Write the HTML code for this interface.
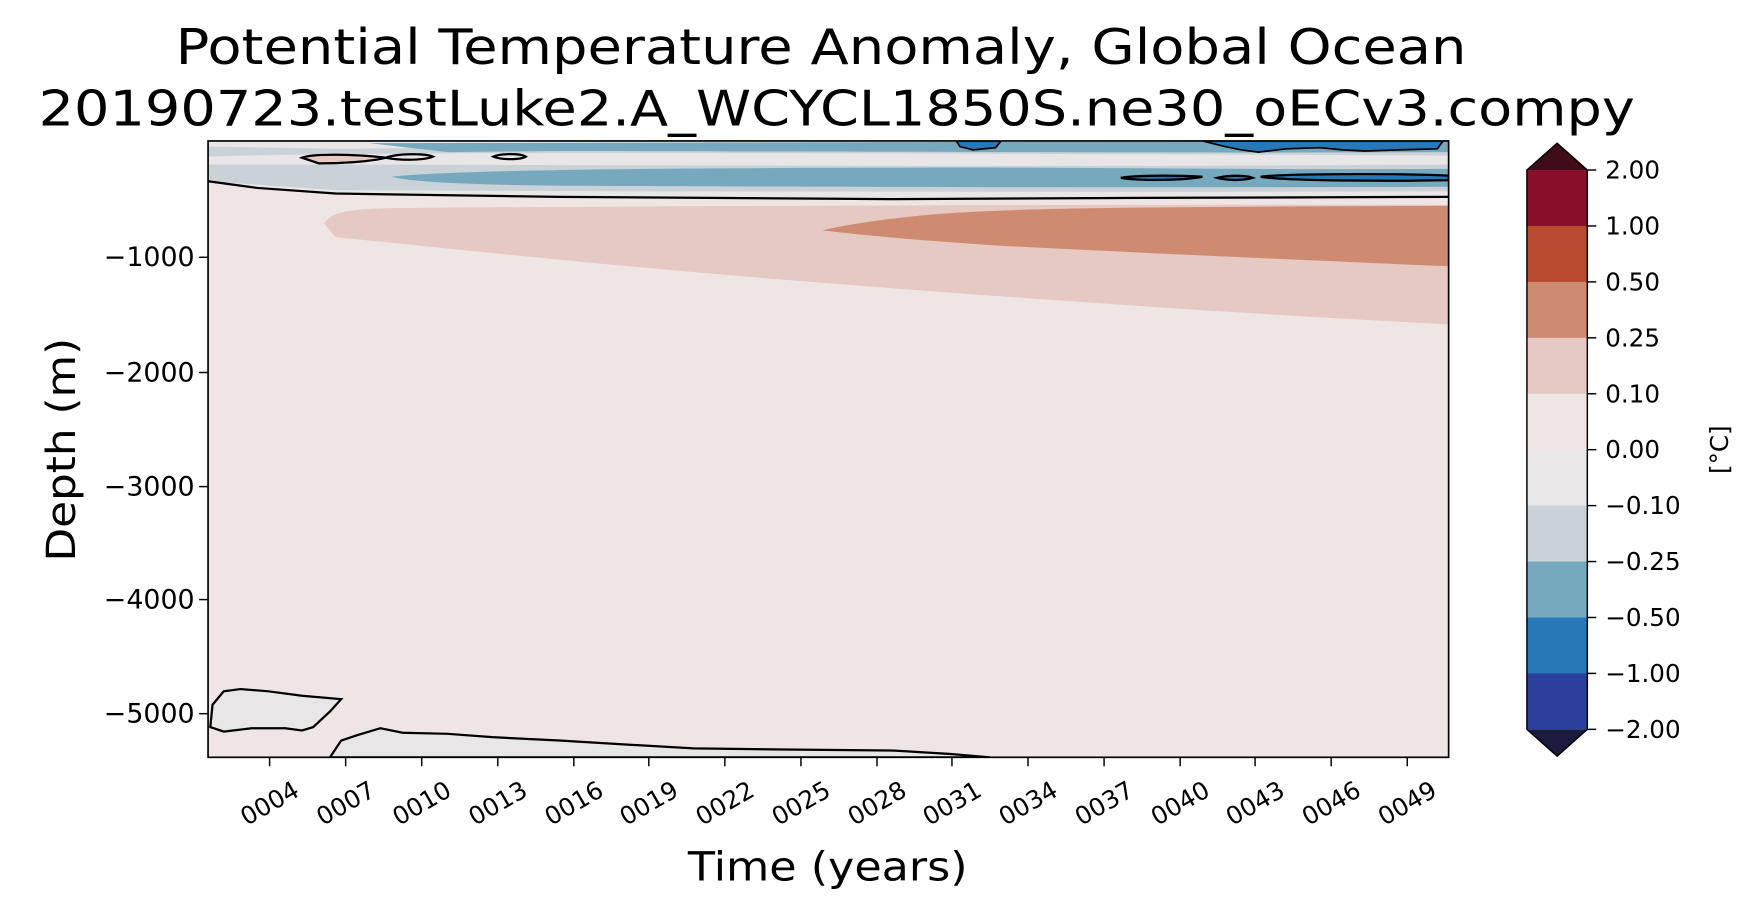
<!DOCTYPE html>
<html><head><meta charset="utf-8"><style>
html,body{margin:0;padding:0;background:#fff}
svg{display:block}
text{font-family:"DejaVu Sans","Liberation Sans",sans-serif;fill:#000}
</style></head><body>
<svg width="1754" height="910" viewBox="0 0 1568 813.5" xmlns="http://www.w3.org/2000/svg">
<rect width="1568" height="813.5" fill="#fff"/>
<text x="734" y="57" font-size="44" text-anchor="middle" textLength="1154" lengthAdjust="spacingAndGlyphs">Potential Temperature Anomaly, Global Ocean</text>
<text x="748" y="112" font-size="44" text-anchor="middle" textLength="1427" lengthAdjust="spacingAndGlyphs">20190723.testLuke2.A_WCYCL1850S.ne30_oECv3.compy</text>
<defs><clipPath id="c"><rect x="186" y="126" width="1109" height="551"/></clipPath></defs>
<g clip-path="url(#c)">
<rect x="186" y="126" width="1109" height="551" fill="#efe5e4"/>
<path d="M186,126 H1295 V176 L1000,177 L800,178 L500,176 L300,173 L230,168 L186,162 Z" fill="#cad2d8"/>
<path d="M186,126 H1295 V131 L700,130 L400,132 L300,133 L186,131 Z" fill="#e8e6e7"/>
<path d="M186,140 C300,136 600,136 1295,139 V147 C900,150 500,147 186,147 Z" fill="#e8e6e7"/>
<path d="M186,162 L230,168 L300,173 L500,176 L800,178 L1000,177 L1295,176 V171 C900,172 500,171 300,170 Z" fill="#e8e6e7"/>
<path d="M330,128 L1295,126 V136 C1000,137 700,135 500,135 L400,136 Z" fill="#76a9bd"/>
<path d="M350,158 C400,152 600,150 800,150 C950,149 1100,152 1295,151 V167 C1000,168 700,167 500,166 C420,165 370,163 350,158 Z" fill="#76a9bd"/>
<path d="M855,126 H895 L890,132 L870,134 L858,131 Z" fill="#2878b8" stroke="#000" stroke-width="1.5"/>
<path d="M1075,126 H1290 L1285,133 L1250,134 L1220,135 L1200,134 L1180,132 L1150,133 L1125,136 L1110,134 L1095,131 Z" fill="#2878b8" stroke="#000" stroke-width="1.5"/>
<path d="M1002,159 C1020,156 1060,157 1075,158 C1060,161 1020,162 1002,159 Z" fill="#2878b8" stroke="#000" stroke-width="2"/>
<path d="M1088,159 C1100,156 1115,157 1120,159 C1110,162 1095,161 1088,159 Z" fill="#2878b8" stroke="#000" stroke-width="2"/>
<path d="M1127,158 C1150,155 1250,155 1295,157 V161 C1250,162 1150,162 1127,158 Z" fill="#2878b8" stroke="#000" stroke-width="2"/>
<path d="M270,141 C280,137 320,138 345,141 C330,145 300,146 285,146 Z" fill="#e5c9c2" stroke="#000" stroke-width="2"/>
<path d="M345,141 C355,137 380,137 387,140 C380,143 360,144 345,141 Z" fill="#e8e6e7" stroke="#000" stroke-width="2"/>
<path d="M441,140 C448,137 465,137 470,140 C465,143 448,143 441,140 Z" fill="#e8e6e7" stroke="#000" stroke-width="2"/>
<path d="M186,162 L230,168 L300,173 L500,176 L800,178 L1000,177 L1295,176" fill="none" stroke="#000" stroke-width="2"/>
<path d="M290,200 C295,190 310,187 350,186 C600,184 900,183 1295,183 V290 C1100,280 900,266 700,250 C550,238 400,222 300,212 Z" fill="#e5c9c2"/>
<path d="M735,206 C760,200 790,196 830,192 C900,186 1000,185 1295,184 V238 C1150,232 1000,225 900,220 C820,215 770,210 735,206 Z" fill="#cf8a72"/>
<path d="M188,650 L190,630 L200,618 L215,616 L240,618 L270,622 L305,625 L295,636 L280,650 L270,653 L255,651 L225,651 L200,654 Z" fill="#e8e6e7" stroke="#000" stroke-width="2"/>
<path d="M295,677 L305,662 L320,657 L340,651 L360,655 L400,656 L440,659 L500,662 L550,665 L620,669 L700,670 L800,671 L850,674 L885,677 Z" fill="#e8e6e7" stroke="#000" stroke-width="2"/>
</g>
<rect x="186" y="126" width="1109" height="551" fill="none" stroke="#000" stroke-width="1.5"/>
<g stroke="#000" stroke-width="1.3">
<line x1="178" y1="230" x2="186" y2="230"/><line x1="178" y1="333" x2="186" y2="333"/><line x1="178" y1="435" x2="186" y2="435"/><line x1="178" y1="536" x2="186" y2="536"/><line x1="178" y1="638" x2="186" y2="638"/>
</g>
<g font-size="24" text-anchor="end">
<text x="174" y="238">−1000</text><text x="174" y="341">−2000</text><text x="174" y="443">−3000</text><text x="174" y="544">−4000</text><text x="174" y="646">−5000</text>
</g>
<g font-size="22" text-anchor="middle" dominant-baseline="central">
<line x1="241" y1="677" x2="241" y2="685" stroke="#000" stroke-width="1.3"/><text transform="translate(241,718) rotate(-30)">0004</text>
<line x1="309" y1="677" x2="309" y2="685" stroke="#000" stroke-width="1.3"/><text transform="translate(309,718) rotate(-30)">0007</text>
<line x1="377" y1="677" x2="377" y2="685" stroke="#000" stroke-width="1.3"/><text transform="translate(377,718) rotate(-30)">0010</text>
<line x1="445" y1="677" x2="445" y2="685" stroke="#000" stroke-width="1.3"/><text transform="translate(445,718) rotate(-30)">0013</text>
<line x1="513" y1="677" x2="513" y2="685" stroke="#000" stroke-width="1.3"/><text transform="translate(513,718) rotate(-30)">0016</text>
<line x1="580" y1="677" x2="580" y2="685" stroke="#000" stroke-width="1.3"/><text transform="translate(580,718) rotate(-30)">0019</text>
<line x1="648" y1="677" x2="648" y2="685" stroke="#000" stroke-width="1.3"/><text transform="translate(648,718) rotate(-30)">0022</text>
<line x1="716" y1="677" x2="716" y2="685" stroke="#000" stroke-width="1.3"/><text transform="translate(716,718) rotate(-30)">0025</text>
<line x1="784" y1="677" x2="784" y2="685" stroke="#000" stroke-width="1.3"/><text transform="translate(784,718) rotate(-30)">0028</text>
<line x1="851" y1="677" x2="851" y2="685" stroke="#000" stroke-width="1.3"/><text transform="translate(851,718) rotate(-30)">0031</text>
<line x1="919" y1="677" x2="919" y2="685" stroke="#000" stroke-width="1.3"/><text transform="translate(919,718) rotate(-30)">0034</text>
<line x1="987" y1="677" x2="987" y2="685" stroke="#000" stroke-width="1.3"/><text transform="translate(987,718) rotate(-30)">0037</text>
<line x1="1055" y1="677" x2="1055" y2="685" stroke="#000" stroke-width="1.3"/><text transform="translate(1055,718) rotate(-30)">0040</text>
<line x1="1122" y1="677" x2="1122" y2="685" stroke="#000" stroke-width="1.3"/><text transform="translate(1122,718) rotate(-30)">0043</text>
<line x1="1190" y1="677" x2="1190" y2="685" stroke="#000" stroke-width="1.3"/><text transform="translate(1190,718) rotate(-30)">0046</text>
<line x1="1258" y1="677" x2="1258" y2="685" stroke="#000" stroke-width="1.3"/><text transform="translate(1258,718) rotate(-30)">0049</text>
</g>
<text x="740" y="787" font-size="36" text-anchor="middle" textLength="250" lengthAdjust="spacingAndGlyphs">Time (years)</text>
<text transform="translate(67,402) rotate(-90)" font-size="36" text-anchor="middle" textLength="200" lengthAdjust="spacingAndGlyphs">Depth (m)</text>
<g>
<polygon points="1365,152 1392,128 1419,152" fill="#3f0c17"/>
<rect x="1365" y="152" width="54" height="50.5" fill="#880e29"/>
<rect x="1365" y="202" width="54" height="50.5" fill="#b84a30"/>
<rect x="1365" y="252" width="54" height="50.5" fill="#cf8a72"/>
<rect x="1365" y="302" width="54" height="50.5" fill="#e5c9c2"/>
<rect x="1365" y="352" width="54" height="50.5" fill="#efe5e4"/>
<rect x="1365" y="402" width="54" height="50.5" fill="#e8e6e7"/>
<rect x="1365" y="452" width="54" height="50.5" fill="#cad2d8"/>
<rect x="1365" y="502" width="54" height="50.5" fill="#76a9bd"/>
<rect x="1365" y="552" width="54" height="50.5" fill="#2878b8"/>
<rect x="1365" y="602" width="54" height="50" fill="#2c3f9c"/>
<polygon points="1365,652 1392,676 1419,652" fill="#1b1b40"/>
<polygon points="1365,152 1392,128 1419,152 1419,652 1392,676 1365,652" fill="none" stroke="#000" stroke-width="1.3"/>
</g>
<g stroke="#000" stroke-width="1.3">
<line x1="1419" y1="152" x2="1427" y2="152"/><line x1="1419" y1="202" x2="1427" y2="202"/><line x1="1419" y1="252" x2="1427" y2="252"/><line x1="1419" y1="302" x2="1427" y2="302"/><line x1="1419" y1="352" x2="1427" y2="352"/><line x1="1419" y1="402" x2="1427" y2="402"/><line x1="1419" y1="452" x2="1427" y2="452"/><line x1="1419" y1="502" x2="1427" y2="502"/><line x1="1419" y1="552" x2="1427" y2="552"/><line x1="1419" y1="602" x2="1427" y2="602"/><line x1="1419" y1="652" x2="1427" y2="652"/>
</g>
<g font-size="22" dominant-baseline="central">
<text x="1435" y="152">2.00</text><text x="1435" y="202">1.00</text><text x="1435" y="252">0.50</text><text x="1435" y="302">0.25</text><text x="1435" y="352">0.10</text><text x="1435" y="402">0.00</text><text x="1435" y="452">−0.10</text><text x="1435" y="502">−0.25</text><text x="1435" y="552">−0.50</text><text x="1435" y="602">−1.00</text><text x="1435" y="652">−2.00</text>
</g>
<text transform="translate(1537,402) rotate(-90)" font-size="22" text-anchor="middle" dominant-baseline="central">[°C]</text>
</svg>
</body></html>
